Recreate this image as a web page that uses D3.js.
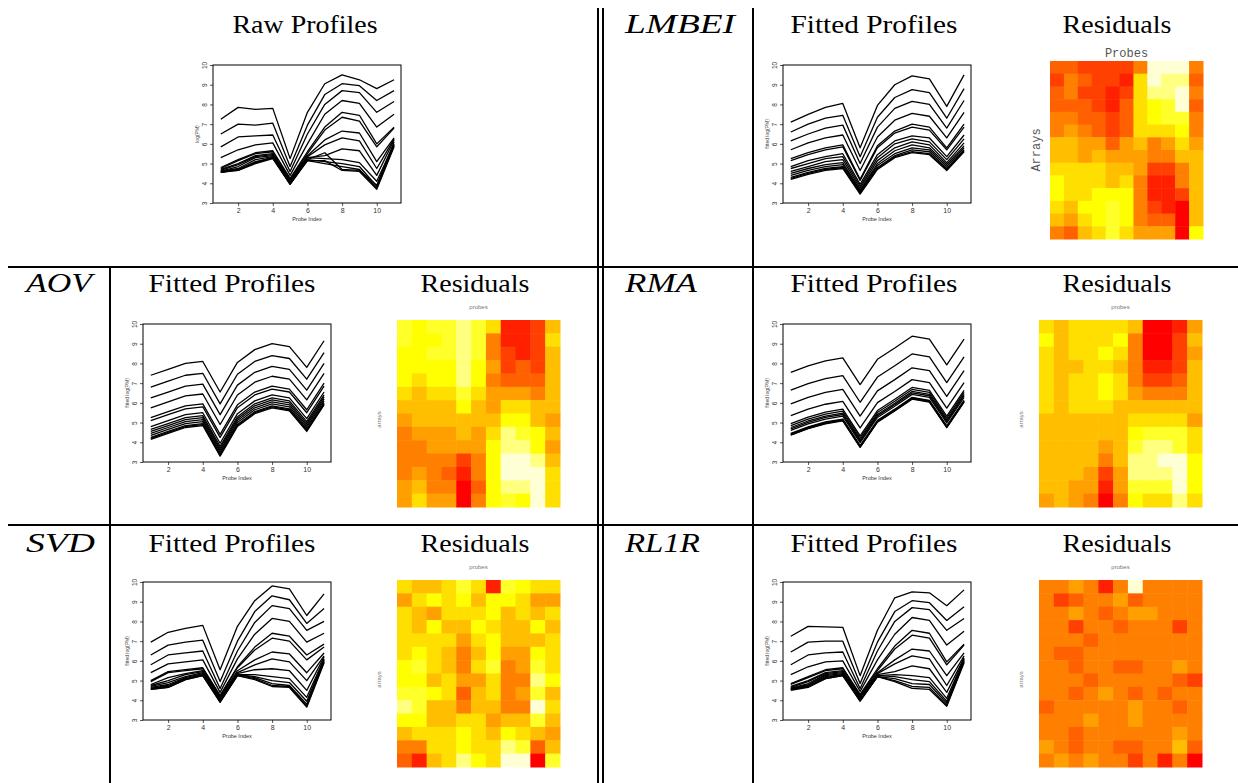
<!DOCTYPE html>
<html>
<head>
<meta charset="utf-8">
<script src="https://cdn.jsdelivr.net/npm/d3@7"></script>
<style>
  body { margin: 0; background: #fff; }
  svg { display: block; }
  .title { font-family: "Liberation Serif", serif; font-size: 26px; }
  .method { font-family: "Liberation Serif", serif; font-style: italic; font-size: 27px; }
  .tick text { font-family: "Liberation Sans", sans-serif; fill: #333; }
</style>
</head>
<body>
<svg id="fig" width="1238" height="783"></svg>
<script>
// probe positions on the x axis
const probeIndex = [1, 2, 3, 4, 5, 6, 7, 8, 9, 10, 11];
const yTicks = [3, 4, 5, 6, 7, 8, 9, 10];
const xTicks = [2, 4, 6, 8, 10];

// R heat.colors(12)
const heatColors = ['#FF0000', '#FF2000', '#FF4000', '#FF6000', '#FF8000', '#FF9F00',
                    '#FFBF00', '#FFDF00', '#FFFF00', '#FFFF2A', '#FFFF80', '#FFFFD5'];

// log(PM) profiles, one row per array
const rawProfiles = [
  [7.25, 7.85, 7.75, 7.8, 5.25, 7.6, 9.05, 9.5, 9.25, 8.8, 9.25],
  [6.5, 7.0, 6.95, 7.05, 4.85, 6.95, 8.5, 9.05, 8.95, 8.2, 8.7],
  [5.85, 6.35, 6.4, 6.45, 4.6, 6.5, 8.0, 8.7, 8.6, 7.6, 8.15],
  [5.3, 5.7, 5.95, 6.05, 4.4, 6.0, 7.5, 8.2, 8.05, 6.85, 7.5],
  [4.8, 5.2, 5.55, 5.65, 4.25, 5.6, 6.85, 7.6, 7.45, 6.0, 6.85],
  [4.75, 5.15, 5.5, 5.6, 4.2, 5.5, 6.7, 7.35, 7.15, 5.85, 6.8],
  [4.7, 5.0, 5.4, 5.5, 4.15, 5.4, 6.2, 6.65, 6.55, 5.1, 6.3],
  [4.65, 4.95, 5.35, 5.45, 4.1, 5.35, 5.95, 6.3, 6.15, 4.75, 6.25],
  [4.6, 4.85, 5.3, 5.4, 4.05, 5.3, 5.4, 5.75, 5.65, 4.4, 6.2],
  [4.6, 4.75, 5.2, 5.35, 4.0, 5.2, 5.55, 4.7, 4.65, 3.9, 6.1],
  [4.55, 4.7, 5.1, 5.3, 4.0, 5.3, 5.25, 5.2, 5.05, 4.1, 6.0],
  [4.55, 4.7, 5.05, 5.3, 3.95, 5.2, 5.1, 5.0, 4.85, 3.85, 5.95],
  [4.6, 4.65, 5.0, 5.25, 3.95, 5.15, 5.0, 4.85, 4.7, 3.75, 5.9],
  [4.55, 4.65, 5.05, 5.3, 4.0, 5.15, 5.15, 4.65, 4.6, 3.7, 5.85]
];

const lmbeiFitted = [
  [7.1, 7.5, 7.85, 8.05, 5.8, 7.95, 9.0, 9.45, 9.3, 7.9, 9.5],
  [6.6, 7.0, 7.3, 7.45, 5.35, 7.35, 8.35, 8.75, 8.6, 7.3, 8.8],
  [6.15, 6.5, 6.8, 6.95, 5.0, 6.85, 7.8, 8.15, 8.0, 6.8, 8.2],
  [5.7, 6.05, 6.3, 6.45, 4.65, 6.35, 7.2, 7.55, 7.4, 6.3, 7.6],
  [5.25, 5.55, 5.8, 5.95, 4.2, 5.9, 6.65, 7.0, 6.85, 5.8, 7.0],
  [5.15, 5.45, 5.7, 5.85, 4.15, 5.8, 6.55, 6.85, 6.7, 5.7, 6.85],
  [4.85, 5.15, 5.35, 5.5, 3.95, 5.45, 6.15, 6.4, 6.3, 5.35, 6.45],
  [4.75, 5.0, 5.25, 5.35, 3.85, 5.3, 6.0, 6.25, 6.1, 5.2, 6.25],
  [4.6, 4.85, 5.1, 5.2, 3.75, 5.15, 5.8, 6.1, 5.95, 5.05, 6.05],
  [4.5, 4.75, 4.95, 5.05, 3.65, 5.0, 5.65, 5.95, 5.8, 4.95, 5.9],
  [4.4, 4.65, 4.85, 4.95, 3.6, 4.9, 5.5, 5.8, 5.7, 4.85, 5.8],
  [4.3, 4.55, 4.75, 4.85, 3.55, 4.8, 5.4, 5.7, 5.6, 4.75, 5.7],
  [4.25, 4.5, 4.7, 4.8, 3.5, 4.75, 5.35, 5.6, 5.5, 4.7, 5.65],
  [4.2, 4.45, 4.65, 4.75, 3.45, 4.7, 5.3, 5.55, 5.45, 4.65, 5.6]
];

const aovFitted = [
  [7.4, 7.7, 8.0, 8.1, 6.55, 8.05, 8.7, 9.0, 8.85, 7.8, 9.15],
  [6.8, 7.1, 7.4, 7.5, 5.95, 7.45, 8.1, 8.4, 8.25, 7.2, 8.55],
  [6.25, 6.55, 6.85, 6.95, 5.4, 6.9, 7.55, 7.85, 7.7, 6.65, 8.0],
  [5.75, 6.05, 6.35, 6.45, 4.9, 6.4, 7.05, 7.35, 7.2, 6.15, 7.5],
  [5.25, 5.55, 5.85, 5.95, 4.4, 5.9, 6.55, 6.85, 6.7, 5.65, 7.0],
  [5.1, 5.4, 5.7, 5.8, 4.25, 5.75, 6.4, 6.7, 6.55, 5.5, 6.85],
  [4.8, 5.1, 5.4, 5.5, 3.95, 5.45, 6.1, 6.4, 6.25, 5.2, 6.55],
  [4.65, 4.95, 5.25, 5.35, 3.8, 5.3, 5.95, 6.25, 6.1, 5.05, 6.4],
  [4.55, 4.85, 5.15, 5.25, 3.7, 5.2, 5.85, 6.15, 6.0, 4.95, 6.3],
  [4.45, 4.75, 5.05, 5.15, 3.6, 5.1, 5.75, 6.05, 5.9, 4.85, 6.2],
  [4.35, 4.65, 4.95, 5.05, 3.5, 5.0, 5.65, 5.95, 5.8, 4.75, 6.1],
  [4.25, 4.55, 4.85, 4.95, 3.4, 4.9, 5.55, 5.85, 5.7, 4.65, 6.0],
  [4.2, 4.5, 4.8, 4.9, 3.35, 4.85, 5.5, 5.8, 5.65, 4.6, 5.95],
  [4.15, 4.45, 4.75, 4.85, 3.3, 4.8, 5.45, 5.75, 5.6, 4.55, 5.9]
];

const rmaFitted = [
  [7.55, 7.88, 8.13, 8.28, 6.93, 8.21, 8.78, 9.38, 9.23, 7.93, 9.23],
  [6.65, 6.98, 7.23, 7.38, 6.03, 7.31, 7.88, 8.48, 8.33, 7.03, 8.33],
  [5.95, 6.28, 6.53, 6.68, 5.33, 6.61, 7.18, 7.78, 7.63, 6.33, 7.63],
  [5.35, 5.68, 5.93, 6.08, 4.73, 6.01, 6.58, 7.18, 7.03, 5.73, 7.03],
  [4.95, 5.28, 5.53, 5.68, 4.33, 5.61, 6.18, 6.78, 6.63, 5.33, 6.63],
  [4.85, 5.18, 5.43, 5.58, 4.23, 5.51, 6.08, 6.68, 6.53, 5.23, 6.53],
  [4.75, 5.08, 5.33, 5.48, 4.13, 5.41, 5.98, 6.58, 6.43, 5.13, 6.43],
  [4.68, 5.01, 5.26, 5.41, 4.06, 5.34, 5.91, 6.51, 6.36, 5.06, 6.36],
  [4.6, 4.93, 5.18, 5.33, 3.98, 5.26, 5.83, 6.43, 6.28, 4.98, 6.28],
  [4.45, 4.78, 5.03, 5.18, 3.83, 5.11, 5.68, 6.28, 6.13, 4.83, 6.13],
  [4.42, 4.75, 5.0, 5.15, 3.8, 5.08, 5.65, 6.25, 6.1, 4.8, 6.1],
  [4.4, 4.73, 4.98, 5.13, 3.78, 5.06, 5.63, 6.23, 6.08, 4.78, 6.08],
  [4.38, 4.71, 4.96, 5.11, 3.76, 5.04, 5.61, 6.21, 6.06, 4.76, 6.06],
  [4.36, 4.69, 4.94, 5.09, 3.74, 5.02, 5.59, 6.19, 6.04, 4.74, 6.04]
];

const svdFitted = [
  [6.95, 7.45, 7.65, 7.8, 5.55, 7.75, 9.05, 9.8, 9.65, 8.3, 9.4],
  [6.3, 6.8, 6.95, 7.05, 4.95, 7.0, 8.5, 9.3, 9.1, 7.9, 8.65],
  [5.8, 6.3, 6.4, 6.5, 4.6, 6.5, 7.95, 8.8, 8.65, 7.55, 8.0],
  [5.4, 5.85, 5.95, 6.05, 4.4, 6.1, 7.35, 8.15, 8.0, 6.95, 7.4],
  [5.0, 5.45, 5.55, 5.65, 4.25, 5.7, 6.7, 7.4, 7.25, 6.3, 6.85],
  [4.95, 5.4, 5.5, 5.6, 4.2, 5.65, 6.55, 7.15, 7.0, 6.05, 6.7],
  [4.8, 5.15, 5.35, 5.5, 4.15, 5.5, 6.05, 6.45, 6.35, 5.4, 6.4],
  [4.75, 5.0, 5.3, 5.45, 4.1, 5.4, 5.8, 6.1, 5.95, 5.0, 6.25],
  [4.7, 4.9, 5.2, 5.4, 4.05, 5.35, 5.55, 5.6, 5.5, 4.5, 6.2],
  [4.65, 4.8, 5.15, 5.35, 4.0, 5.3, 5.3, 5.2, 5.1, 4.15, 6.1],
  [4.6, 4.75, 5.1, 5.3, 3.95, 5.3, 5.2, 5.0, 4.9, 3.95, 6.05],
  [4.6, 4.7, 5.1, 5.3, 3.95, 5.3, 5.15, 4.85, 4.75, 3.8, 6.0],
  [4.55, 4.65, 5.05, 5.25, 3.9, 5.25, 5.1, 4.75, 4.7, 3.7, 5.95],
  [4.55, 4.65, 5.05, 5.25, 3.9, 5.25, 5.05, 4.7, 4.65, 3.65, 5.9]
];

const rl1rFitted = [
  [7.25, 7.75, 7.72, 7.7, 5.25, 7.55, 9.2, 9.5, 9.45, 8.8, 9.6],
  [6.45, 6.95, 7.0, 7.0, 4.85, 6.95, 8.5, 9.05, 8.95, 8.05, 8.75],
  [5.8, 6.3, 6.4, 6.45, 4.6, 6.5, 8.0, 8.7, 8.6, 7.55, 8.15],
  [5.3, 5.7, 5.95, 6.0, 4.45, 6.05, 7.35, 8.2, 8.05, 6.8, 7.5],
  [4.85, 5.2, 5.55, 5.65, 4.3, 5.6, 6.75, 7.55, 7.4, 5.95, 6.85],
  [4.8, 5.15, 5.5, 5.6, 4.25, 5.5, 6.6, 7.3, 7.15, 5.8, 6.8],
  [4.7, 5.0, 5.4, 5.5, 4.2, 5.4, 6.05, 6.6, 6.5, 5.25, 6.4],
  [4.65, 4.95, 5.35, 5.45, 4.15, 5.35, 5.85, 6.25, 6.1, 4.75, 6.25],
  [4.6, 4.85, 5.3, 5.4, 4.1, 5.3, 5.45, 5.75, 5.6, 4.4, 6.15],
  [4.6, 4.8, 5.25, 5.35, 4.05, 5.25, 5.3, 5.25, 5.15, 4.1, 6.1],
  [4.55, 4.75, 5.2, 5.3, 4.0, 5.25, 5.2, 5.05, 4.95, 3.95, 6.05],
  [4.55, 4.7, 5.15, 5.3, 4.0, 5.2, 5.1, 4.85, 4.8, 3.85, 6.0],
  [4.55, 4.7, 5.1, 5.25, 4.0, 5.2, 5.0, 4.7, 4.65, 3.75, 5.95],
  [4.5, 4.65, 5.1, 5.25, 3.95, 5.2, 4.95, 4.6, 4.55, 3.7, 5.9]
];

// residual images: heat colour level (0 = red ... 11 = pale yellow), rows = arrays, cols = probes
const lmbeiResid = [
  [3, 3, 2, 2, 2, 2, 4, 11, 11, 11, 4],
  [2, 4, 3, 2, 2, 1, 7, 11, 10, 10, 3],
  [3, 4, 2, 2, 1, 2, 7, 10, 10, 11, 4],
  [3, 3, 3, 2, 1, 3, 7, 8, 9, 11, 3],
  [4, 4, 3, 3, 2, 3, 7, 8, 9, 9, 4],
  [4, 5, 4, 3, 2, 3, 7, 7, 7, 8, 4],
  [6, 6, 5, 5, 3, 5, 6, 4, 5, 7, 5],
  [6, 6, 5, 6, 5, 5, 5, 4, 4, 6, 6],
  [7, 7, 7, 7, 6, 6, 5, 2, 2, 4, 6],
  [8, 7, 7, 7, 6, 7, 4, 1, 1, 4, 6],
  [8, 7, 7, 8, 8, 8, 4, 1, 1, 2, 6],
  [7, 6, 8, 8, 9, 8, 4, 2, 1, 0, 6],
  [6, 5, 7, 8, 9, 8, 4, 3, 3, 0, 6],
  [4, 3, 6, 7, 9, 7, 5, 5, 5, 0, 8]
];

const aovResid = [
  [9, 8, 9, 9, 10, 9, 7, 1, 1, 2, 6],
  [9, 8, 8, 9, 10, 9, 4, 1, 1, 2, 7],
  [8, 8, 9, 9, 10, 9, 4, 2, 1, 2, 6],
  [8, 8, 8, 8, 10, 8, 5, 2, 3, 2, 6],
  [8, 7, 8, 8, 10, 8, 4, 3, 3, 3, 6],
  [7, 6, 7, 7, 9, 7, 5, 5, 5, 4, 6],
  [6, 6, 6, 6, 8, 6, 5, 7, 7, 6, 6],
  [5, 6, 6, 6, 6, 6, 6, 8, 8, 6, 5],
  [4, 5, 5, 5, 6, 5, 7, 10, 9, 8, 6],
  [4, 4, 5, 5, 5, 5, 8, 10, 10, 8, 5],
  [4, 4, 4, 4, 2, 4, 8, 11, 11, 10, 6],
  [4, 5, 4, 3, 1, 4, 8, 11, 11, 11, 7],
  [5, 6, 4, 4, 0, 3, 8, 10, 10, 11, 7],
  [5, 7, 5, 5, 0, 4, 8, 9, 8, 11, 7]
];

const rmaResid = [
  [7, 6, 7, 7, 7, 7, 6, 0, 0, 1, 5],
  [8, 6, 7, 7, 7, 8, 4, 0, 0, 2, 6],
  [7, 6, 7, 7, 8, 7, 4, 0, 0, 2, 5],
  [7, 6, 6, 7, 7, 6, 4, 1, 1, 2, 6],
  [7, 6, 7, 7, 8, 7, 4, 2, 2, 3, 6],
  [7, 6, 7, 7, 8, 7, 5, 4, 4, 4, 6],
  [7, 6, 7, 7, 7, 6, 6, 6, 6, 6, 6],
  [6, 6, 6, 6, 6, 6, 7, 7, 7, 7, 5],
  [6, 6, 6, 6, 6, 6, 8, 9, 9, 9, 7],
  [6, 6, 6, 6, 5, 6, 9, 10, 10, 9, 7],
  [6, 6, 6, 6, 4, 6, 10, 10, 11, 11, 8],
  [6, 6, 6, 5, 2, 5, 10, 10, 10, 11, 8],
  [6, 6, 5, 5, 1, 5, 9, 9, 9, 11, 8],
  [5, 6, 5, 4, 0, 4, 8, 7, 7, 10, 7]
];

const svdResid = [
  [7, 6, 6, 7, 9, 7, 1, 9, 8, 7, 7],
  [5, 7, 8, 7, 8, 6, 8, 8, 7, 5, 5],
  [7, 6, 5, 7, 7, 7, 8, 6, 7, 6, 7],
  [7, 6, 8, 6, 6, 8, 7, 6, 6, 8, 6],
  [7, 7, 7, 7, 5, 7, 8, 6, 6, 6, 7],
  [7, 8, 7, 6, 4, 6, 8, 5, 5, 8, 7],
  [8, 9, 7, 6, 4, 7, 9, 4, 5, 9, 7],
  [8, 8, 6, 7, 5, 5, 7, 4, 4, 10, 8],
  [9, 9, 8, 7, 3, 6, 7, 4, 5, 9, 6],
  [10, 9, 6, 6, 4, 6, 6, 4, 4, 11, 7],
  [8, 8, 6, 6, 7, 7, 5, 6, 6, 9, 6],
  [6, 7, 7, 7, 8, 7, 6, 8, 7, 6, 5],
  [4, 4, 7, 7, 8, 7, 7, 10, 9, 3, 6],
  [3, 1, 6, 7, 10, 8, 7, 11, 11, 0, 9]
];

const rl1rResid = [
  [4, 4, 5, 4, 1, 4, 11, 4, 4, 4, 4],
  [4, 2, 3, 4, 4, 5, 3, 4, 4, 4, 4],
  [4, 4, 5, 4, 3, 4, 5, 5, 4, 4, 4],
  [4, 4, 2, 4, 4, 3, 4, 4, 4, 2, 4],
  [4, 4, 4, 3, 4, 4, 4, 4, 4, 4, 4],
  [4, 3, 3, 4, 4, 4, 4, 4, 4, 4, 4],
  [4, 4, 3, 4, 4, 3, 3, 4, 4, 5, 4],
  [4, 4, 4, 3, 4, 4, 4, 4, 4, 3, 2],
  [4, 4, 3, 4, 5, 4, 3, 4, 3, 4, 4],
  [3, 4, 4, 4, 4, 4, 5, 4, 4, 3, 4],
  [4, 4, 4, 5, 4, 4, 5, 4, 4, 4, 4],
  [4, 4, 3, 4, 4, 4, 4, 4, 4, 5, 4],
  [5, 4, 3, 4, 4, 3, 3, 4, 4, 6, 3],
  [4, 5, 4, 5, 4, 4, 2, 4, 1, 4, 0]
];

const svg = d3.select('#fig');
svg.append('rect').attr('width', 1238).attr('height', 783).attr('fill', '#fff');

const color = d3.scaleOrdinal().domain(d3.range(heatColors.length)).range(heatColors);

/**
 * Small R-style profile plot: boxed panel, rotated y tick labels
 */
function drawProfile(left, top, yLabel, data) {
  const w = 188, h = 138;
  const x = d3.scaleLinear().domain([0.55, 11.4]).range([0, w]);
  const y = d3.scaleLinear().domain([3, 10]).range([h, 0]);

  const g = svg.append('g').attr('transform', `translate(${left},${top})`);

  const line = d3.line()
      .x((d, i) => x(probeIndex[i]))
      .y(d => y(d));

  g.selectAll('.profile')
      .data(data)
    .join('path')
      .attr('class', 'profile')
      .attr('fill', 'none')
      .attr('stroke', '#000')
      .attr('stroke-width', 1.3)
      .attr('stroke-linejoin', 'round')
      .attr('d', line);

  const yAxis = d3.axisLeft(y).tickValues(yTicks).tickFormat(d3.format('d')).tickSize(3).tickSizeOuter(0);
  const yg = g.append('g').call(yAxis);
  yg.select('.domain').remove();
  yg.selectAll('.tick line').attr('stroke', '#555');
  yg.selectAll('.tick text')
      .attr('x', 0).attr('dy', 0)
      .attr('text-anchor', 'middle')
      .attr('transform', 'translate(-6,0) rotate(-90)')
      .style('font-size', '6.5px');

  const xAxis = d3.axisBottom(x).tickValues(xTicks).tickFormat(d3.format('d')).tickSize(3).tickSizeOuter(0);
  const xg = g.append('g').attr('transform', `translate(0,${h})`).call(xAxis);
  xg.select('.domain').remove();
  xg.selectAll('.tick line').attr('stroke', '#555');
  xg.selectAll('.tick text').attr('y', 5).style('font-size', '7px');

  g.append('rect')
      .attr('width', w).attr('height', h)
      .attr('fill', 'none').attr('stroke', '#000').attr('stroke-width', 1);

  g.append('text')
      .attr('x', w / 2).attr('y', h + 18)
      .attr('text-anchor', 'middle')
      .style('font-family', '"Liberation Sans", sans-serif')
      .style('font-size', '5.5px').style('fill', '#333')
      .text('Probe Index');

  g.append('text')
      .attr('transform', `translate(-14,${h / 2}) rotate(-90)`)
      .attr('text-anchor', 'middle')
      .style('font-family', '"Liberation Sans", sans-serif')
      .style('font-size', '5px').style('fill', '#444')
      .text(yLabel);
}

/**
 * Residual image (R image() with heat.colors)
 */
function drawResiduals(left, top, w, h, data, big) {
  const g = svg.append('g').attr('transform', `translate(${left},${top})`);
  const cols = d3.scaleBand().domain(probeIndex).range([0, w]);
  const rows = d3.scaleBand().domain(d3.range(data.length)).range([0, h]);

  data.forEach((row, r) => {
    g.selectAll(`.cell-${r}`)
        .data(row)
      .join('rect')
        .attr('class', `cell-${r}`)
        .attr('x', (d, i) => cols(probeIndex[i]))
        .attr('y', rows(r))
        .attr('width', cols.bandwidth() + 0.5)
        .attr('height', rows.bandwidth() + 0.5)
        .attr('fill', d => color(d));
  });

  if (big) {
    g.append('text')
        .attr('x', w / 2).attr('y', -4)
        .attr('text-anchor', 'middle')
        .style('font-family', '"Liberation Mono", monospace')
        .style('font-size', '12px').style('fill', '#555')
        .text('Probes');
    g.append('text')
        .attr('transform', `translate(-10,${h / 2}) rotate(-90)`)
        .attr('text-anchor', 'middle')
        .style('font-family', '"Liberation Mono", monospace')
        .style('font-size', '12px').style('fill', '#555')
        .text('Arrays');
  } else {
    g.append('text')
        .attr('x', w / 2).attr('y', -11)
        .attr('text-anchor', 'middle')
        .style('font-family', '"Liberation Sans", sans-serif')
        .style('font-size', '6px').style('fill', '#777')
        .text('probes');
    g.append('text')
        .attr('transform', `translate(-16,${h / 2 + 6}) rotate(-90)`)
        .attr('text-anchor', 'middle')
        .style('font-family', '"Liberation Sans", sans-serif')
        .style('font-size', '6px').style('fill', '#777')
        .text('arrays');
  }
}

// headings are stretched to the width of the TeX originals
function title(x, y, txt, len) {
  svg.append('text').attr('class', 'title')
      .attr('x', x).attr('y', y).attr('text-anchor', 'middle')
      .attr('textLength', len).attr('lengthAdjust', 'spacingAndGlyphs')
      .text(txt);
}
function method(x, y, txt, len) {
  svg.append('text').attr('class', 'method')
      .attr('x', x).attr('y', y)
      .attr('textLength', len).attr('lengthAdjust', 'spacingAndGlyphs')
      .text(txt);
}

// table rules
const rule = (x1, y1, x2, y2) => svg.append('line')
    .attr('x1', x1).attr('y1', y1).attr('x2', x2).attr('y2', y2)
    .attr('stroke', '#000').attr('stroke-width', 2);
rule(8, 267, 1238, 267);
rule(8, 525, 1238, 525);
rule(598, 8, 598, 783);
rule(603, 8, 603, 783);
rule(753, 8, 753, 783);
rule(110, 267, 110, 783);

// row 1
title(305, 33, 'Raw Profiles', 145);
drawProfile(213, 65, 'log(PM)', rawProfiles);
method(625, 33, 'LMBEI', 110);
title(874, 33, 'Fitted Profiles', 167);
title(1117, 33, 'Residuals', 109);
drawProfile(783, 65, 'fitted log(PM)', lmbeiFitted);
drawResiduals(1050, 61, 153, 178, lmbeiResid, true);

// row 2
method(26, 292, 'AOV', 66);
title(232, 292, 'Fitted Profiles', 167);
title(475, 292, 'Residuals', 109);
drawProfile(143, 324, 'fitted log(PM)', aovFitted);
drawResiduals(397, 320, 163, 187, aovResid, false);
method(625, 292, 'RMA', 72);
title(874, 292, 'Fitted Profiles', 167);
title(1117, 292, 'Residuals', 109);
drawProfile(783, 324, 'fitted log(PM)', rmaFitted);
drawResiduals(1039, 320, 163, 187, rmaResid, false);

// row 3
method(26, 552, 'SVD', 69);
title(232, 552, 'Fitted Profiles', 167);
title(475, 552, 'Residuals', 109);
drawProfile(143, 582, 'fitted log(PM)', svdFitted);
drawResiduals(397, 580, 163, 187, svdResid, false);
method(625, 552, 'RL1R', 75);
title(874, 552, 'Fitted Profiles', 167);
title(1117, 552, 'Residuals', 109);
drawProfile(783, 582, 'fitted log(PM)', rl1rFitted);
drawResiduals(1039, 580, 163, 187, rl1rResid, false);
</script>
</body>
</html>
